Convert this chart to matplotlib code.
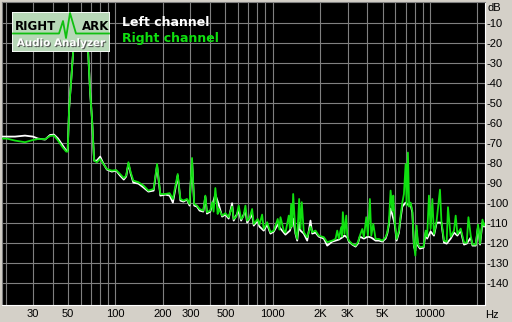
import matplotlib.pyplot as plt
import matplotlib.patheffects as pe
from matplotlib.patches import Rectangle

# --- data ---
freq_right = [19, 20.4, 23.0, 26.6, 29.9, 32.2, 35.7, 38.4, 40.7, 43.2, 45.8, 48.6, 49.7,
              50.8, 52.3, 53.8, 55.4, 57.9, 60.5, 63.2, 65.1, 67.1, 69.1, 71.1, 73.2,
              76.2, 80.0, 83.9, 88.3, 94.9, 101, 107, 113, 117, 121, 125, 130, 140, 151,
              162, 175, 184, 193, 208, 221, 232, 249, 259, 271, 285, 296, 307, 317, 330,
              343, 362, 373, 382, 401, 412, 421, 432, 447, 453, 477, 500, 525, 552, 565,
              588, 608, 630, 651, 671, 688, 711, 740, 758, 803, 824, 857, 877, 922, 968,
              1016, 1077, 1104, 1121, 1176, 1206, 1266, 1288, 1311, 1330, 1350, 1396,
              1432, 1474, 1502, 1531, 1577, 1658, 1740, 1784, 1872, 1963, 2115, 2223,
              2392, 2510, 2574, 2635, 2729, 2761, 2794, 2864, 2937, 2985, 3051, 3207,
              3366, 3482, 3585, 3714, 3802, 3938, 4032, 4151, 4237, 4364, 4513, 4737,
              4979, 5226, 5357, 5485, 5623, 5765, 5849, 5962, 6140, 6350, 6510, 6675,
              6834, 7006, 7110, 7245, 7375, 7537, 7729, 7913, 8077, 8231, 8390, 8640,
              9121, 9392, 9600, 9858, 10106, 10361, 10608, 11036, 11586, 11826, 12285,
              12781, 13028, 13553, 14224, 14582, 14951, 15696, 16476, 17141, 17573,
              18178, 18637, 19558, 20235, 20836, 21583, 22097, 22654]
level_right = [-68, -68, -69, -69.8, -68.7, -68.2, -68.3, -66.7, -66.5, -69, -72, -74.5, -74.5,
               -52.5, -39, -25, -12, -7, -6.5, -9, -15, -25, -45, -59, -79,
               -79.8, -78.2, -80.7, -83.2, -84, -83.7, -85.7, -87.7, -86.5, -79.8, -84.8, -89, -89.8, -91.5,
               -94, -93.2, -80.7, -95.7, -95.7, -95.3, -98.2, -85.7, -98.2, -99, -98.2, -100.7, -77.7, -100.7, -101.5,
               -103.2, -104, -96.5, -104.8, -104, -99.8, -104.5, -92.7, -105.7, -103, -106.5, -105.3, -107.3, -102, -108.2,
               -107, -101.5, -108.2, -107, -101.5, -109, -108, -103.2, -110.7, -108.2, -111, -106, -113.2, -109.8, -114.8,
               -114, -108.2, -113.5, -107.3, -114, -115, -106.5, -113, -100.7, -112, -95.7, -114.8,
               -118.2, -98.2, -113, -99.8, -114.8, -117.3, -112, -114.8, -114, -116.5, -117.3, -119.8,
               -119, -118.2, -114, -118, -112.3, -117, -104.8, -115.7, -106.5, -117, -119, -120.7,
               -121.5, -119.8, -116.5, -113.2, -117.3, -107.3, -116.5, -98.2, -116.5, -110.7, -118.2, -118.2,
               -119, -117.3, -114.8, -109.8, -94, -104, -96.5, -109, -118.2, -114, -106.5, -100,
               -95.7, -80.7, -101.5, -75, -102, -100, -104, -121, -126.5, -111.5, -120.7, -122.3,
               -122, -114, -117, -96.5, -113, -98.2, -115.7, -109, -93.5, -109, -119,
               -119.5, -102.3, -117, -114, -106.5, -115.7, -113, -120, -120, -107.3,
               -116.5, -121, -121, -111, -120.5, -108.5, -111.5, -110]

freq_left = [19, 20.4, 23.0, 26.6, 29.9, 32.2, 35.7, 38.4, 40.7, 43.2, 45.8, 48.6, 49.7,
             50.8, 52.3, 53.8, 55.4, 57.9, 60.5, 63.2, 65.1, 67.1, 69.1, 71.1, 73.2,
             76.2, 80.0, 83.9, 88.3, 94.9, 101, 107, 113, 117, 121, 125, 130, 140, 151,
             162, 175, 184, 193, 208, 221, 232, 249, 259, 271, 285, 296, 307, 317, 330,
             343, 362, 373, 382, 401, 432, 453, 477, 500, 525, 552, 565, 608, 630, 671,
             688, 740, 758, 803, 824, 877, 922, 968, 1016, 1077, 1121, 1206, 1288, 1350,
             1396, 1432, 1474, 1502, 1577, 1658, 1740, 1784, 1872, 1963, 2115, 2223,
             2392, 2510, 2635, 2761, 2864, 2985, 3051, 3207, 3366, 3482, 3585, 3802,
             4032, 4237, 4513, 4737, 4979, 5226, 5357, 5485, 5623, 5765, 5962, 6140,
             6350, 6510, 6675, 7006, 7245, 7537, 7729, 7913, 8077, 8231, 8390, 8640,
             9121, 9392, 9600, 10106, 10608, 11036, 11826, 12285, 12781, 13553, 14224,
             14951, 15696, 16476, 17141, 18178, 18637, 19558, 20235, 20836, 21583,
             22097, 22654]
level_left = [-67, -67, -67, -66.5, -67, -68, -68.5, -66.2, -66, -68, -71, -74, -74,
              -52.5, -39, -25, -12, -7, -6.5, -9, -15, -25, -45, -59, -79,
              -79, -77, -80.5, -83.5, -84.5, -84, -86.5, -88.5, -87, -80.5, -85.5, -90, -90.5, -92.5,
              -94.5, -94, -81.5, -96.5, -96, -96.5, -100, -86.5, -99, -99.5, -98.5, -101.5, -78.5, -101.5, -102,
              -104, -104.5, -97, -105.5, -104.5, -96, -100.7, -107, -106, -108, -100.3, -109, -104, -109, -104,
              -110, -106, -111.5, -109, -112, -114, -111, -115.5, -114.5, -111, -113, -116, -114, -108,
              -115.5, -119, -110, -114, -115.5, -119, -109, -115.5, -115, -117, -118, -121.5,
              -119.5, -119, -118.5, -117.5, -116.5, -117.5, -119.5, -121, -122, -120.5, -117, -118,
              -117, -117.5, -119, -119, -119.5, -118, -115.5, -111, -103, -106, -110.5, -119,
              -115, -108, -102, -100, -101, -101, -105, -122, -124, -114, -121.5, -123,
              -122.5, -115, -118, -114.5, -116.5, -110, -110, -120, -120.5, -118, -115,
              -116.5, -114, -121, -120.5, -117.5, -121.5, -121.5, -112, -121, -110,
              -112, -111]

x_ticks = [30, 50, 100, 200, 300, 500, 1000, 2000, 3000, 5000, 10000]
x_labels = ['30', '50', '100', '200', '300', '500', '1000', '2K', '3K', '5K', '10000']
grid_freqs = [20, 40, 60, 70, 80, 90, 400, 600, 700, 800, 900,
              4000, 6000, 7000, 8000, 9000, 20000]
y_ticks = [-10, -20, -30, -40, -50, -60, -70, -80, -90, -100, -110, -120, -130, -140]

W, H = 512, 322
BG = '#d4d0c8'
GRID = '#808080'
GREEN = '#10e010'

plt.rcParams['font.family'] = ['Liberation Sans', 'DejaVu Sans']

fig = plt.figure(figsize=(W / 100, H / 100), dpi=100, facecolor=BG)
ax = fig.add_axes([2 / W, (H - 305) / H, 483 / W, 303 / H], facecolor='black')
ax.set_xscale('log')
ax.set_xlim(19, 22400)
ax.set_ylim(-151.2, 0.3)

ax.set_xticks(x_ticks)
ax.set_xticklabels(x_labels)
ax.set_xticks(grid_freqs, minor=True)
ax.xaxis.set_minor_formatter(plt.NullFormatter())
ax.set_yticks(y_ticks)
ax.set_yticklabels([str(v) for v in y_ticks])
ax.yaxis.tick_right()
ax.tick_params(which='both', length=0, labelsize=8, colors='black')
ax.tick_params(axis='x', pad=3)
ax.tick_params(axis='y', pad=1)
ax.grid(which='both', color=GRID, lw=0.8)
ax.set_axisbelow(True)

for side, c in [('top', GRID), ('left', GRID), ('right', 'white'), ('bottom', 'white')]:
    ax.spines[side].set_color(c)
    ax.spines[side].set_linewidth(0.8)

ax.plot(freq_left, level_left, color='white', lw=1.3, zorder=3)
ax.plot(freq_right, level_right, color=GREEN, lw=1.3, zorder=4)

fig.text(487 / W, 1 - 8 / H, 'dB', fontsize=8, ha='left', va='center')
fig.text(492 / W, 1 - 315 / H, 'Hz', fontsize=8, ha='center', va='center')

# legend texts
fig.text(122 / W, 1 - 22.5 / H, 'Left channel', color='white', fontsize=9,
         fontweight='bold', family='DejaVu Sans', ha='left', va='center')
fig.text(122 / W, 1 - 38.5 / H, 'Right channel', color=GREEN, fontsize=9,
         fontweight='bold', family='DejaVu Sans', ha='left', va='center')

# RightMark logo box
lg = fig.add_axes([12 / W, 1 - 52 / H, 98 / W, 40 / H])
lg.set_xlim(0, 98)
lg.set_ylim(40, 0)
lg.axis('off')
lg.add_patch(Rectangle((0, 0), 98, 40, facecolor='#b8d8b8', edgecolor='white', lw=1.2))
lg.plot([1, 47, 51, 54, 58, 64, 97], [21.5, 21.5, 9, 26, 1, 21.5, 21.5],
        color='#10c010', lw=1.3)
lg.text(3, 14.5, 'RIGHT', fontsize=8.5, fontweight='bold', family='DejaVu Sans',
        color='black', va='center', ha='left')
lg.text(70, 14.5, 'ARK', fontsize=8.5, fontweight='bold', family='DejaVu Sans',
        color='black', va='center', ha='left')
lg.text(49, 31, 'Audio Analyzer', fontsize=7.5, fontweight='bold', family='DejaVu Sans',
        color='white', va='center', ha='center',
        path_effects=[pe.withSimplePatchShadow(offset=(0.8, -0.8), shadow_rgbFace='#505050', alpha=0.9)])

fig.savefig('out.png', dpi=100, facecolor=BG)
